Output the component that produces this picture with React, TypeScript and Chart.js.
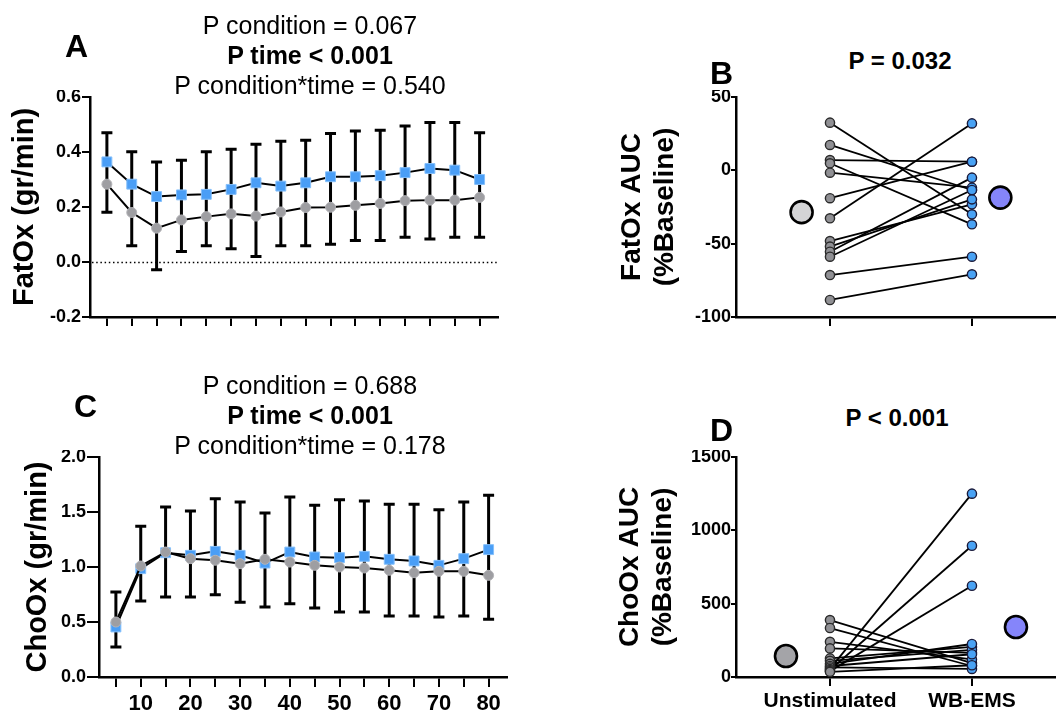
import React, { useEffect, useRef } from 'react';
import { Chart, registerables } from 'chart.js';
Chart.register(...registerables);

const FONT = "'Liberation Sans', Arial, Helvetica, sans-serif";

// ---------- Data ----------
const timePoints = [5, 10, 15, 20, 25, 30, 35, 40, 45, 50, 55, 60, 65, 70, 75, 80];

const fatOxWB = [0.364, 0.283, 0.238, 0.244, 0.246, 0.264, 0.288, 0.276, 0.288, 0.310, 0.310, 0.314, 0.325, 0.340, 0.334, 0.300];
const fatOxWBSD = [0.106, 0.118, 0.126, 0.126, 0.155, 0.146, 0.140, 0.163, 0.155, 0.157, 0.166, 0.165, 0.170, 0.167, 0.173, 0.170];
const fatOxUnstim = [0.283, 0.180, 0.123, 0.153, 0.165, 0.175, 0.167, 0.182, 0.198, 0.199, 0.206, 0.213, 0.223, 0.225, 0.225, 0.235];
const fatOxUnstimSD = [0.102, 0.121, 0.151, 0.115, 0.106, 0.127, 0.147, 0.123, 0.139, 0.134, 0.128, 0.135, 0.133, 0.141, 0.135, 0.145];

const choOxWB = [0.455, 0.985, 1.130, 1.106, 1.142, 1.106, 1.036, 1.136, 1.091, 1.085, 1.097, 1.070, 1.055, 1.015, 1.076, 1.158];
const choOxWBSD = [0.318, 0.385, 0.415, 0.403, 0.479, 0.485, 0.455, 0.500, 0.470, 0.527, 0.503, 0.500, 0.515, 0.506, 0.515, 0.494];
const choOxUnstim = [0.500, 1.009, 1.136, 1.076, 1.061, 1.030, 1.070, 1.045, 1.015, 1.000, 0.991, 0.970, 0.948, 0.961, 0.961, 0.924];
const choOxUnstimSD = [0.227, 0.318, 0.409, 0.349, 0.313, 0.351, 0.434, 0.378, 0.388, 0.409, 0.400, 0.415, 0.393, 0.416, 0.406, 0.400];

const fatOxTicks = [-0.2, 0, 0.2, 0.4, 0.6];
const choOxTicks = [0, 0.5, 1.0, 1.5, 2.0];
const timeLabelTicks = [10, 20, 30, 40, 50, 60, 70, 80];

const groups = ['Unstimulated', 'WB-EMS'];
const fatAucUnstim = [32.5, 17.3, 7.0, 4.8, -1.6, -19.0, -32.7, -48.2, -52.0, -55.5, -58.9, -71.4, -88.4];
const fatAucWB = [-30.0, -13.4, 5.9, -36.8, -11.8, 5.9, 32.0, -23.2, -19.8, -5.0, -13.4, -58.9, -70.9];
const fatAucMeans = [-28.5, -18.6];
const fatAucTicks = [-100, -50, 0, 50];

const choAucUnstim = [388, 334, 240, 195, 127, 110, 90, 75, 65, 55, 48, 40, 35];
const choAucWB = [95, 75, 120, 165, 205, 185, 225, 155, 55, 1250, 895, 622, 80];
const choAucMeans = [143, 341];
const choAucTicks = [0, 500, 1000, 1500];

// ---------- Styling ----------
const BLUE = '#4a9ef6';
const BLUE_EDGE = '#86c0fb';
const GREY = '#9e9ea2';
const GREY_EDGE = '#b4b4b8';

type Box = { left: number; top: number; width: number; height: number };

function ChartCanvas({ box, make }: { box: Box; make: () => any }) {
  const ref = useRef<HTMLCanvasElement>(null);
  useEffect(() => {
    const chart = new Chart(ref.current as HTMLCanvasElement, make());
    return () => chart.destroy();
  }, []);
  return (
    <canvas
      ref={ref}
      width={box.width}
      height={box.height}
      style={{ position: 'absolute', left: box.left, top: box.top, width: box.width, height: box.height }}
    />
  );
}

function errorBarPlugin(upper: number[], upperSD: number[], lower: number[], lowerSD: number[]) {
  return {
    id: 'errorBars',
    beforeDatasetsDraw(chart: any) {
      const { ctx, scales } = chart;
      const x = scales.x;
      const y = scales.y;
      ctx.save();
      ctx.strokeStyle = '#000';
      ctx.lineWidth = 3;
      timePoints.forEach((t, i) => {
        const px = x.getPixelForValue(t);
        const top = y.getPixelForValue(upper[i] + upperSD[i]);
        const bot = y.getPixelForValue(lower[i] - lowerSD[i]);
        ctx.beginPath();
        ctx.moveTo(px, top);
        ctx.lineTo(px, bot);
        ctx.moveTo(px - 5.5, top);
        ctx.lineTo(px + 5.5, top);
        ctx.moveTo(px - 5.5, bot);
        ctx.lineTo(px + 5.5, bot);
        ctx.stroke();
      });
      ctx.restore();
    },
  };
}

const zeroLinePlugin = {
  id: 'zeroLine',
  beforeDatasetsDraw(chart: any) {
    const { ctx, chartArea, scales } = chart;
    const py = Math.round(scales.y.getPixelForValue(0)) + 0.5;
    ctx.save();
    ctx.strokeStyle = '#000';
    ctx.lineWidth = 1.5;
    ctx.setLineDash([1.5, 2.7]);
    ctx.beginPath();
    ctx.moveTo(chartArea.left + 2, py);
    ctx.lineTo(chartArea.right, py);
    ctx.stroke();
    ctx.restore();
  },
};

function axisCommon(tickLen: number) {
  return {
    grid: { drawOnChartArea: false, color: '#000', lineWidth: 2, tickLength: tickLen },
    border: { color: '#000', width: 2.5 },
  };
}

type TimeOpts = {
  wb: number[]; wbSD: number[]; un: number[]; unSD: number[];
  yMin: number; yMax: number; yTicks: number[];
  yWidth: number; xHeight: number; padTop: number; padRight: number;
  title: string; titlePad: number; showX: boolean; xTickLen: number; yTickLen: number;
  zero: boolean;
};

function timeChart(o: TimeOpts) {
  const plugins: any[] = [errorBarPlugin(o.wb, o.wbSD, o.un, o.unSD)];
  if (o.zero) plugins.push(zeroLinePlugin);
  return {
    type: 'line',
    data: {
      datasets: [
        {
          data: timePoints.map((t, i) => ({ x: t, y: o.un[i] })),
          borderColor: '#000',
          borderWidth: 2,
          pointStyle: 'circle',
          pointRadius: 5,
          pointBackgroundColor: GREY,
          pointBorderColor: GREY_EDGE,
          pointBorderWidth: 1,
          clip: false,
          order: 0,
        },
        {
          data: timePoints.map((t, i) => ({ x: t, y: o.wb[i] })),
          borderColor: '#000',
          borderWidth: 2,
          pointStyle: 'rect',
          pointRadius: 7,
          pointBackgroundColor: BLUE,
          pointBorderColor: BLUE_EDGE,
          pointBorderWidth: 1,
          clip: false,
          order: 1,
        },
      ],
    },
    options: {
      animation: false,
      responsive: false,
      devicePixelRatio: 1,
      layout: { autoPadding: false, padding: { top: o.padTop, right: o.padRight, left: 0, bottom: 0 } },
      plugins: { legend: { display: false }, tooltip: { enabled: false } },
      scales: {
        x: {
          type: 'linear',
          min: 1.6,
          max: 83.7,
          ...axisCommon(o.xTickLen),
          afterBuildTicks(s: any) { s.ticks = timePoints.map((v) => ({ value: v })); },
          afterFit(s: any) { s.height = o.xHeight; s.paddingLeft = 0; s.paddingRight = 0; },
          ticks: {
            autoSkip: false,
            maxRotation: 0,
            padding: 4,
            color: '#000',
            font: { family: FONT, size: 22, weight: 'bold' },
            callback: (v: any) => (o.showX && timeLabelTicks.includes(Number(v)) ? String(v) : ''),
          },
        },
        y: {
          type: 'linear',
          min: o.yMin,
          max: o.yMax,
          ...axisCommon(o.yTickLen),
          afterBuildTicks(s: any) { s.ticks = o.yTicks.map((v) => ({ value: v })); },
          afterFit(s: any) { s.width = o.yWidth; s.paddingTop = 0; s.paddingBottom = 0; },
          ticks: {
            padding: 1,
            color: '#000',
            font: { family: FONT, size: 18, weight: 'bold' },
            callback: (v: any) => Number(v).toFixed(1),
          },
          title: {
            display: true,
            text: o.title,
            color: '#000',
            font: { family: FONT, size: 29, weight: 'bold' },
            padding: { top: o.titlePad, bottom: 0 },
          },
        },
      },
    },
    plugins,
  };
}

type PairOpts = {
  un: number[]; wb: number[]; means: number[]; meanColors: string[]; meanOffset: number;
  yMin: number; yMax: number; yTicks: number[];
  xHeight: number; titlePad: number; showX: boolean; title: string[];
};

function pairChart(o: PairOpts) {
  const pairLines = o.un.map((u, i) => ({
    data: [{ x: 0, y: u }, { x: 1, y: o.wb[i] }],
    borderColor: '#000',
    borderWidth: 1.8,
    pointRadius: 0,
    showLine: true,
    clip: false,
    order: 3,
  }));
  return {
    type: 'scatter',
    data: {
      datasets: [
        ...pairLines,
        {
          data: o.un.map((u) => ({ x: 0, y: u })),
          pointRadius: 4.6,
          pointBackgroundColor: '#909094',
          pointBorderColor: '#2a2a2a',
          pointBorderWidth: 1.4,
          clip: false,
          order: 1,
        },
        {
          data: o.wb.map((w) => ({ x: 1, y: w })),
          pointRadius: 4.6,
          pointBackgroundColor: '#49a2f4',
          pointBorderColor: '#1a1a3a',
          pointBorderWidth: 1.4,
          clip: false,
          order: 1,
        },
        {
          data: [
            { x: 0 - o.meanOffset, y: o.means[0] },
            { x: 1 + o.meanOffset, y: o.means[1] },
          ],
          pointRadius: 11,
          pointBackgroundColor: o.meanColors,
          pointBorderColor: '#000',
          pointBorderWidth: 2.6,
          clip: false,
          order: 0,
        },
      ],
    },
    options: {
      animation: false,
      responsive: false,
      devicePixelRatio: 1,
      layout: { autoPadding: false, padding: { top: 7, right: 2, left: 0, bottom: 0 } },
      plugins: { legend: { display: false }, tooltip: { enabled: false } },
      scales: {
        x: {
          type: 'linear',
          min: -0.662,
          max: 1.585,
          ...axisCommon(9),
          afterBuildTicks(s: any) { s.ticks = [0, 1].map((v) => ({ value: v })); },
          afterFit(s: any) { s.height = o.xHeight; s.paddingLeft = 0; s.paddingRight = 0; },
          ticks: {
            autoSkip: false,
            maxRotation: 0,
            padding: 3,
            color: '#000',
            font: { family: FONT, size: 21, weight: 'bold' },
            callback: (v: any) => (o.showX ? groups[Number(v)] : ''),
          },
        },
        y: {
          type: 'linear',
          min: o.yMin,
          max: o.yMax,
          ...axisCommon(5),
          afterBuildTicks(s: any) { s.ticks = o.yTicks.map((v) => ({ value: v })); },
          afterFit(s: any) { s.width = 176; s.paddingTop = 0; s.paddingBottom = 0; },
          ticks: {
            padding: 0,
            color: '#000',
            font: { family: FONT, size: 18, weight: 'bold' },
            callback: (v: any) => String(v),
          },
          title: {
            display: true,
            text: o.title,
            color: '#000',
            font: { family: FONT, size: 28, weight: 'bold', lineHeight: 1.2 },
            padding: { top: o.titlePad, bottom: 0 },
          },
        },
      },
    },
  };
}

const txt = (extra: React.CSSProperties): React.CSSProperties => ({
  position: 'absolute',
  fontFamily: FONT,
  color: '#000',
  whiteSpace: 'nowrap',
  margin: 0,
  ...extra,
});

function StatLines({ top, lines }: { top: number; lines: string[] }) {
  return (
    <div style={txt({ left: 110, top, width: 400, textAlign: 'center', fontSize: 25, lineHeight: '30px' })}>
      <div>{lines[0]}</div>
      <div style={{ fontWeight: 'bold' }}>{lines[1]}</div>
      <div>{lines[2]}</div>
    </div>
  );
}

export default function App() {
  return (
    <div style={{ position: 'fixed', left: 0, top: 0, width: 1057, height: 713, background: '#fff', overflow: 'hidden' }}>
      <ChartCanvas
        box={{ left: 0, top: 90, width: 500, height: 260 }}
        make={() =>
          timeChart({
            wb: fatOxWB, wbSD: fatOxWBSD, un: fatOxUnstim, unSD: fatOxUnstimSD,
            yMin: -0.2, yMax: 0.6, yTicks: fatOxTicks,
            yWidth: 90, xHeight: 33, padTop: 7, padRight: 2,
            title: 'FatOx (gr/min)', titlePad: 8, showX: false, xTickLen: 9, yTickLen: 8, zero: true,
          })
        }
      />
      <ChartCanvas
        box={{ left: 0, top: 450, width: 510, height: 263 }}
        make={() =>
          timeChart({
            wb: choOxWB, wbSD: choOxWBSD, un: choOxUnstim, unSD: choOxUnstimSD,
            yMin: 0, yMax: 2, yTicks: choOxTicks,
            yWidth: 99, xHeight: 36, padTop: 7, padRight: 3,
            title: 'ChoOx (gr/min)', titlePad: 21, showX: true, xTickLen: 10, yTickLen: 12, zero: false,
          })
        }
      />
      <ChartCanvas
        box={{ left: 560, top: 90, width: 497, height: 260 }}
        make={() =>
          pairChart({
            un: fatAucUnstim, wb: fatAucWB, means: fatAucMeans, meanColors: ['#d4d4d6', '#8585fa'], meanOffset: 0.2,
            yMin: -100, yMax: 50, yTicks: fatAucTicks, xHeight: 33, titlePad: 55, showX: false,
            title: ['FatOx AUC', '(%Baseline)'],
          })
        }
      />
      <ChartCanvas
        box={{ left: 560, top: 450, width: 497, height: 263 }}
        make={() =>
          pairChart({
            un: choAucUnstim, wb: choAucWB, means: choAucMeans, meanColors: ['#a4a4a8', '#8585fa'], meanOffset: 0.31,
            yMin: 0, yMax: 1500, yTicks: choAucTicks, xHeight: 36, titlePad: 53, showX: true,
            title: ['ChoOx AUC', '(%Baseline)'],
          })
        }
      />

      <StatLines top={10} lines={['P condition = 0.067', 'P time < 0.001', 'P condition*time = 0.540']} />
      <StatLines top={370} lines={['P condition = 0.688', 'P time < 0.001', 'P condition*time = 0.178']} />

      <div style={txt({ left: 65, top: 30, fontSize: 32, fontWeight: 'bold', lineHeight: '32px' })}>A</div>
      <div style={txt({ left: 710, top: 57, fontSize: 32, fontWeight: 'bold', lineHeight: '32px' })}>B</div>
      <div style={txt({ left: 74, top: 390, fontSize: 32, fontWeight: 'bold', lineHeight: '32px' })}>C</div>
      <div style={txt({ left: 710, top: 414, fontSize: 32, fontWeight: 'bold', lineHeight: '32px' })}>D</div>

      <div style={txt({ left: 800, top: 46, width: 200, textAlign: 'center', fontSize: 24, fontWeight: 'bold', lineHeight: '30px' })}>P = 0.032</div>
      <div style={txt({ left: 797, top: 403, width: 200, textAlign: 'center', fontSize: 24, fontWeight: 'bold', lineHeight: '30px' })}>P &lt; 0.001</div>
    </div>
  );
}
